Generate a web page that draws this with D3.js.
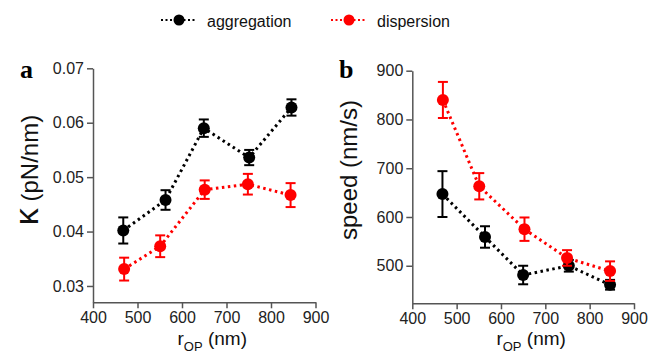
<!DOCTYPE html>
<html>
<head>
<meta charset="utf-8">
<script src="https://cdn.jsdelivr.net/npm/d3@7"></script>
<style>
  body { margin: 0; background: #fff; }
  svg { display: block; font-family: 'Liberation Sans', Arial, sans-serif; }
</style>
</head>
<body>
<svg id="chart" width="662" height="355"></svg>
<script>
const seriesNames = ['aggregation', 'dispersion'];
const seriesColors = ['#000000', '#ff0000'];

// panel a: stiffness
const kAggX = [468, 563, 649, 751, 846];
const kAggY = [0.0402, 0.0458, 0.0590, 0.0536, 0.0628];
const kAggErr = [0.0024, 0.0018, 0.0016, 0.0014, 0.0015];
const kDisX = [470, 551, 651, 748, 844];
const kDisY = [0.0331, 0.0373, 0.0477, 0.0487, 0.0467];
const kDisErr = [0.0021, 0.0020, 0.0017, 0.0019, 0.0022];

// panel b: speed
const vAggX = [468, 564, 650, 753, 846];
const vAggY = [647, 559, 481, 500, 461];
const vAggErr = [47, 22, 19, 12, 10];
const vDisX = [469, 551, 653, 749, 846];
const vDisY = [840, 663, 575, 516, 489];
const vDisErr = [37, 27, 24, 16, 20];

const xTicks = [400, 500, 600, 700, 800, 900];
const kTicks = [0.03, 0.04, 0.05, 0.06, 0.07];
const vTicks = [500, 600, 700, 800, 900];

const svg = d3.select('#chart');

function zip(xs, ys, es) {
  return xs.map((x, i) => ({ x: x, y: ys[i], e: es[i] }));
}

function drawPanel(opts) {
  const x = d3.scaleLinear().domain([400, 900]).range(opts.xRange);
  const y = d3.scaleLinear().domain(opts.yDomain).range(opts.yRange);
  const g = svg.append('g');

  const xAxis = g.append('g')
    .attr('transform', `translate(0,${opts.yRange[0]})`)
    .call(d3.axisBottom(x).tickValues(xTicks).tickSize(6).tickSizeOuter(0).tickPadding(3));
  const yAxis = g.append('g')
    .attr('transform', `translate(${opts.xRange[0]},0)`)
    .call(d3.axisLeft(y).tickValues(opts.yTicks).tickFormat(opts.fmt)
      .tickSize(6).tickSizeOuter(0).tickPadding(3));
  [xAxis, yAxis].forEach(a => {
    a.select('.domain').attr('stroke', '#555').attr('stroke-width', 1.5);
    a.selectAll('.tick line').attr('stroke', '#555').attr('stroke-width', 1.5);
    a.selectAll('.tick text').attr('fill', '#222').style('font-size', '16px');
  });

  opts.series.forEach((data, si) => {
    const color = seriesColors[si];
    g.append('path')
      .datum(data)
      .attr('fill', 'none')
      .attr('stroke', color)
      .attr('stroke-width', 3)
      .attr('stroke-dasharray', '2.5,3.5')
      .attr('d', d3.line().x(d => x(d.x)).y(d => y(d.y)));
    const bars = g.append('g').attr('stroke', color).attr('stroke-width', 2);
    data.forEach(d => {
      const cx = x(d.x);
      bars.append('line').attr('x1', cx).attr('x2', cx)
        .attr('y1', y(d.y - d.e)).attr('y2', y(d.y + d.e));
      [d.y - d.e, d.y + d.e].forEach(v => {
        bars.append('line').attr('x1', cx - 5).attr('x2', cx + 5)
          .attr('y1', y(v)).attr('y2', y(v));
      });
    });
    g.selectAll(null)
      .data(data)
      .enter().append('circle')
      .attr('cx', d => x(d.x))
      .attr('cy', d => y(d.y))
      .attr('r', 6)
      .attr('fill', color);
  });

  // panel letter
  g.append('text')
    .attr('x', opts.letterX).attr('y', 78)
    .style('font-family', "'Liberation Serif', 'Times New Roman', serif")
    .style('font-weight', 'bold').style('font-size', '26px')
    .text(opts.letter);

  // y label
  const yl = g.append('text')
    .attr('transform', `translate(${opts.yLabelX},170) rotate(-90)`)
    .attr('text-anchor', 'middle')
    .style('font-size', '24px').attr('fill', '#111');
  opts.yLabel.forEach(part => {
    yl.append('tspan').style('font-size', part.size || null).text(part.text);
  });

  // x label with subscript
  const xl = g.append('text')
    .attr('x', (opts.xRange[0] + opts.xRange[1]) / 2 + 8).attr('y', 345)
    .attr('text-anchor', 'middle')
    .style('font-size', '19px').attr('fill', '#111');
  xl.append('tspan').text('r');
  xl.append('tspan').attr('dy', 6).style('font-size', '13px').text('OP');
  xl.append('tspan').attr('dy', -6).text(' (nm)');
}

drawPanel({
  xRange: [93, 315.5], yRange: [302.3, 68.3], yDomain: [0.027, 0.07],
  yTicks: kTicks, fmt: d3.format('.2f'),
  series: [zip(kAggX, kAggY, kAggErr), zip(kDisX, kDisY, kDisErr)],
  letter: 'a', letterX: 20, yLabelX: 38,
  yLabel: [{ text: 'κ', size: '34px' }, { text: ' (pN/nm)' }]
});
drawPanel({
  xRange: [412.3, 634], yRange: [303.3, 70.7], yDomain: [423, 900],
  yTicks: vTicks, fmt: d3.format('d'),
  series: [zip(vAggX, vAggY, vAggErr), zip(vDisX, vDisY, vDisErr)],
  letter: 'b', letterX: 339, yLabelX: 357,
  yLabel: [{ text: 'speed (nm/s)' }]
});

// legend
const legendX = [161, 331];
seriesNames.forEach((name, i) => {
  const lg = svg.append('g').attr('transform', `translate(${legendX[i]},20)`);
  lg.append('line').attr('x1', 0).attr('x2', 36)
    .attr('stroke', seriesColors[i]).attr('stroke-width', 2).attr('stroke-dasharray', '2,2.5');
  lg.append('circle').attr('cx', 18).attr('r', 5.5).attr('fill', seriesColors[i]);
  lg.append('text').attr('x', 46).attr('y', 6.5)
    .style('font-size', '16px').attr('fill', '#111').text(name);
});
</script>
</body>
</html>
